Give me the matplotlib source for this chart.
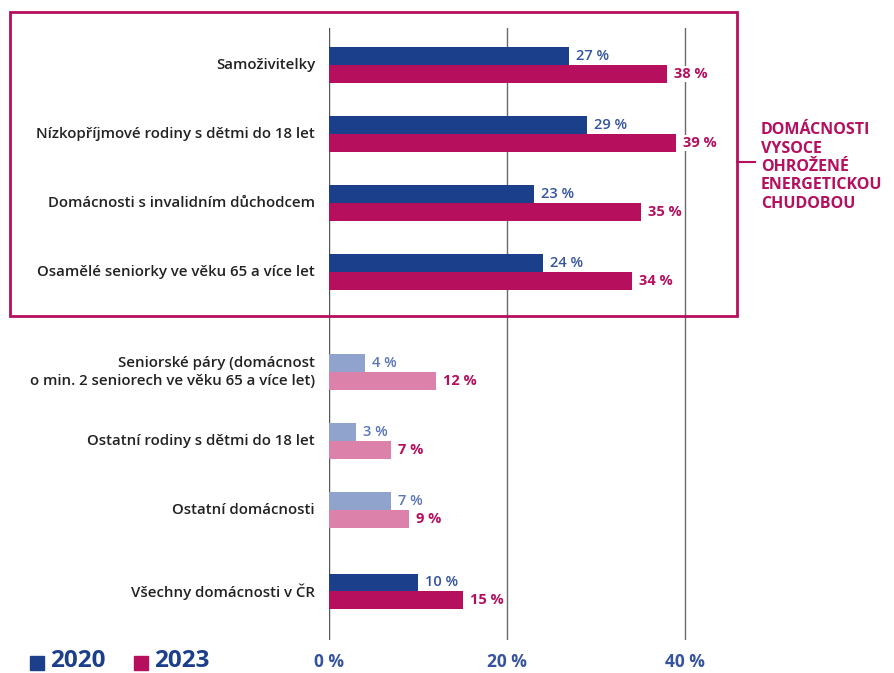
import matplotlib
matplotlib.use("Agg")
import matplotlib.pyplot as plt
from matplotlib.patches import Rectangle
from matplotlib.lines import Line2D

categories = [
    "Samoživitelky",
    "Nízkopříjmové rodiny s dětmi do 18 let",
    "Domácnosti s invalidním důchodcem",
    "Osamělé seniorky ve věku 65 a více let",
    "Seniorské páry (domácnost\no min. 2 seniorech ve věku 65 a více let)",
    "Ostatní rodiny s dětmi do 18 let",
    "Ostatní domácnosti",
    "Všechny domácnosti v ČR",
]
v2020 = [27, 29, 23, 24, 4, 3, 7, 10]
v2023 = [38, 39, 35, 34, 12, 7, 9, 15]
highlight = [True, True, True, True, False, False, False, True]
xticks = [0, 20, 40]
xtick_labels = ["0 %", "20 %", "40 %"]
series_labels = ["2020", "2023"]
box_text = "DOMÁCNOSTI\nVYSOCE\nOHROŽENÉ\nENERGETICKOU\nCHUDOBOU"

BLUE = "#1b3f8b"
MAG = "#b50f5d"
LBLUE = "#8fa3cd"
LMAG = "#dc82aa"
BLUE_TXT = "#3553a0"
BLUE_TXT_L = "#5a76b4"

plt.rcParams['font.family'] = ['Open Sans', 'DejaVu Sans']

W, H = 895, 673
fig = plt.figure(figsize=(W / 100, H / 100), dpi=100)

# layout positions (category centers)
pos = [0, 1, 2, 3, 4.45, 5.45, 6.45, 7.63]
px_per_unit = 69.0
top_px, bot_px = 28, 640
ax_left_px, ax_right_px = 329, 737
ax = fig.add_axes([ax_left_px / W, 1 - bot_px / H, (ax_right_px - ax_left_px) / W, (bot_px - top_px) / H])
y_top = (top_px - 65) / px_per_unit
y_bot = (bot_px - 65) / px_per_unit
ax.set_ylim(y_bot, y_top)
ax.set_xlim(0, (ax_right_px - ax_left_px) / 8.9)

bh = 0.26
for i, p in enumerate(pos):
    c1 = BLUE if highlight[i] else LBLUE
    c2 = MAG if highlight[i] else LMAG
    t1 = BLUE_TXT if highlight[i] else BLUE_TXT_L
    ax.barh(p - bh / 2, v2020[i], height=bh, color=c1, zorder=3)
    ax.barh(p + bh / 2, v2023[i], height=bh, color=c2, zorder=3)
    ax.text(v2020[i] + 0.8, p - bh / 2, f"{v2020[i]} %", va="center", ha="left",
            color=t1, fontsize=10.5, fontweight="semibold", zorder=4,
            bbox=dict(facecolor="white", edgecolor="none", pad=1))
    ax.text(v2023[i] + 0.8, p + bh / 2, f"{v2023[i]} %", va="center", ha="left",
            color=MAG, fontsize=10.5, fontweight="bold", zorder=4,
            bbox=dict(facecolor="white", edgecolor="none", pad=1))
    fig.text(315 / W, 1 - (65 + (p) * px_per_unit) / H, categories[i], ha="right", va="center",
             fontsize=10.8, fontweight="semibold", color="#222222", linespacing=1.35)

for x in xticks:
    ax.axvline(x, color="#555555" if x == 0 else "#6a6a6a", lw=1.0, zorder=1)

for s in ax.spines.values():
    s.set_visible(False)
ax.set_yticks([])
ax.set_xticks([])
for x, lab in zip(xticks, xtick_labels):
    fig.text((ax_left_px + x * 8.9) / W, 1 - 662 / H, lab, ha="center", va="center",
             fontsize=12.5, fontweight="bold", color=BLUE_TXT)

# highlight box
fig.add_artist(Rectangle((10 / W, 1 - 316 / H), (737 - 10) / W, (316 - 12) / H,
                         transform=fig.transFigure, fill=False, edgecolor=MAG, lw=2))
fig.add_artist(Line2D([737 / W, 755 / W], [1 - 162 / H, 1 - 162 / H],
                      transform=fig.transFigure, color=MAG, lw=1.5))
fig.text(761 / W, 1 - 167 / H, box_text, ha="left", va="center", fontsize=11.5,
         fontweight="bold", color=MAG, linespacing=1.2)

# legend
for k, (lab, col, x0) in enumerate(zip(series_labels, [BLUE, MAG], [30, 134])):
    fig.add_artist(Rectangle((x0 / W, 1 - 670 / H), 14 / W, 14 / H,
                             transform=fig.transFigure, color=col))
    fig.text((x0 + 20) / W, 1 - 661 / H, lab, ha="left", va="center",
             fontsize=17.5, fontweight="bold", color=BLUE)

fig.savefig("out.png", dpi=100)
